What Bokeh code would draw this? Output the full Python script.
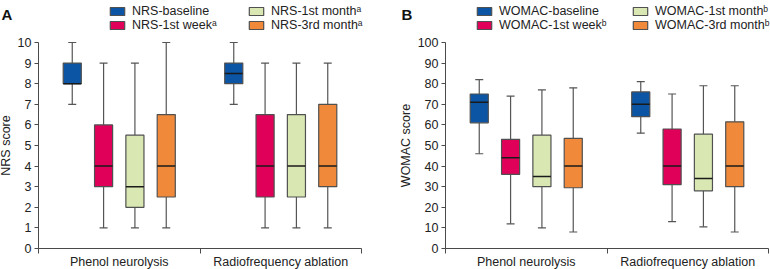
from bokeh.plotting import figure
from bokeh.layouts import row
from bokeh.models import ColumnDataSource, FixedTicker, Range1d, Legend, LegendItem, Label
from bokeh.transform import dodge
from bokeh.embed import file_html
from bokeh.resources import INLINE

groups = ["Phenol neurolysis", "Radiofrequency ablation"]

nrs_series = ["NRS-baseline", "NRS-1st week\u1d43", "NRS-1st month\u1d43", "NRS-3rd month\u1d43"]
# each row: one series; columns: [Phenol, RF]
nrs_min = [[7, 7], [1, 1], [1, 1], [1, 1]]
nrs_q1 = [[8, 8], [3, 2.5], [2, 2.5], [2.5, 3]]
nrs_median = [[8, 8.5], [4, 4], [3, 4], [4, 4]]
nrs_q3 = [[9, 9], [6, 6.5], [5.5, 6.5], [6.5, 7]]
nrs_max = [[10, 10], [9, 9], [9, 9], [10, 9]]

womac_series = ["WOMAC-baseline", "WOMAC-1st week\u1d47", "WOMAC-1st month\u1d47", "WOMAC-3rd month\u1d47"]
womac_min = [[46, 56], [12, 13], [10, 10.5], [8, 8]]
womac_q1 = [[61, 64], [36, 31], [30, 28], [29.5, 30]]
womac_median = [[71, 70], [44, 40], [35, 34], [40, 40]]
womac_q3 = [[75, 76], [53, 58], [55, 55.5], [53.5, 61.5]]
womac_max = [[82, 81], [74, 75], [77, 79], [78, 79]]

colors = ["#0b55a4", "#e0005a", "#d9e8b2", "#f08a3a"]

FONT = "Liberation Sans"
AX = "#4a4a4a"
TXT = "#222222"

FIG_H = 269
PLOT_TOP = 42      # px from figure top to the top tick
PLOT_H = 206       # px between bottom (0) and top tick
PLOT_W = 323       # px spanned by the two groups


def make_panel(letter, series, mins, q1s, meds, q3s, maxs, ymax, ystep, ylabel,
               width, axis_left, legend_cols_x, letter_x):
    ngroups = len(groups)
    xppu = PLOT_W / ngroups
    yppu = PLOT_H / ymax
    x0 = -axis_left / xppu
    x1 = ngroups + (width - axis_left - PLOT_W) / xppu
    y1 = ymax + PLOT_TOP / yppu
    y0 = -(FIG_H - PLOT_TOP - PLOT_H) / yppu
    p = figure(width=width, height=FIG_H, x_range=Range1d(x0, x1),
               y_range=Range1d(y0, y1), output_backend="svg", toolbar_location=None,
               min_border=0)
    p.xgrid.visible = False
    p.ygrid.visible = False
    p.outline_line_color = None
    p.background_fill_color = "white"

    xs = [i + 0.5 for i in range(ngroups)]
    spacing = 0.194
    box_w = 0.112
    items = []
    for k, name in enumerate(series):
        src = ColumnDataSource(dict(x=xs, lo=mins[k], q1=q1s[k], med=meds[k],
                                    q3=q3s[k], hi=maxs[k]))
        xd = dodge("x", (k - (len(series) - 1) / 2) * spacing, range=p.x_range)
        p.segment(x0=xd, y0="q3", x1=xd, y1="hi", source=src, line_color="#555555", line_width=1.2)
        p.segment(x0=xd, y0="lo", x1=xd, y1="q1", source=src, line_color="#555555", line_width=1.2)
        p.scatter(x=xd, y="hi", marker="dash", size=8, source=src, line_color="#555555", line_width=1.2)
        p.scatter(x=xd, y="lo", marker="dash", size=8, source=src, line_color="#555555", line_width=1.2)
        r = p.vbar(x=xd, width=box_w, bottom="q1", top="q3", source=src,
                   fill_color=colors[k], line_color="#505050", line_width=1.2)
        p.scatter(x=xd, y="med", marker="dash", size=18, source=src, line_color="#1a1a1a", line_width=1.5)
        items.append(LegendItem(label=name, renderers=[r]))

    # legend: two columns, each a small legend of two rows
    for c, vx in enumerate(legend_cols_x):
        legend = Legend(items=items[2 * c:2 * c + 2], location=(vx, FIG_H - 32),
                        orientation="vertical",
                        glyph_width=18, glyph_height=10, label_standoff=6, spacing=0,
                        padding=0, margin=0, label_height=14,
                        label_text_font=FONT, label_text_font_size="12.5px",
                        label_text_color=TXT,
                        border_line_color=None, background_fill_alpha=0)
        p.add_layout(legend)

    p.add_layout(Label(x=letter_x, y=FIG_H - 5, x_units="screen", y_units="screen", text=letter,
                       text_font=FONT, text_font_size="15px", text_font_style="bold",
                       text_baseline="top", text_align="left", text_color="#111111"))

    ya = p.yaxis[0]
    ya.fixed_location = 0
    ya.bounds = (0, ymax)
    ya.ticker = FixedTicker(ticks=list(range(0, ymax + 1, ystep)))
    ya.axis_line_color = AX
    ya.major_tick_line_color = AX
    ya.minor_tick_line_color = None
    ya.major_tick_out = 4
    ya.major_tick_in = 0
    ya.major_label_standoff = 3
    ya.major_label_text_font = FONT
    ya.major_label_text_font_size = "12.5px"
    ya.major_label_text_color = TXT
    ya.axis_label = ylabel
    ya.axis_label_text_font = FONT
    ya.axis_label_text_font_size = "12.5px"
    ya.axis_label_text_font_style = "normal"
    ya.axis_label_text_color = TXT
    ya.axis_label_standoff = 2

    xa = p.xaxis[0]
    xa.fixed_location = 0
    xa.bounds = (0, ngroups)
    xa.ticker = FixedTicker(ticks=xs, minor_ticks=list(range(ngroups + 1)))
    xa.major_label_overrides = {x: g for x, g in zip(xs, groups)}
    xa.axis_line_color = AX
    xa.major_tick_line_color = None
    xa.major_tick_out = 0
    xa.major_tick_in = 0
    xa.minor_tick_line_color = AX
    xa.minor_tick_out = 5
    xa.minor_tick_in = 0
    xa.major_label_standoff = 1
    xa.major_label_text_font = FONT
    xa.major_label_text_font_size = "12.5px"
    xa.major_label_text_color = TXT
    return p


pa = make_panel("A", nrs_series, nrs_min, nrs_q1, nrs_median, nrs_q3, nrs_max, 10, 1,
                "NRS score", 385, 38, [108, 247], 1)
pb = make_panel("B", womac_series, womac_min, womac_q1, womac_median, womac_q3, womac_max,
                100, 10, "WOMAC score", 385, 60, [90, 246], 16)

layout = row(pa, pb, spacing=0)
open("out.html", "w").write(file_html(layout, INLINE))
